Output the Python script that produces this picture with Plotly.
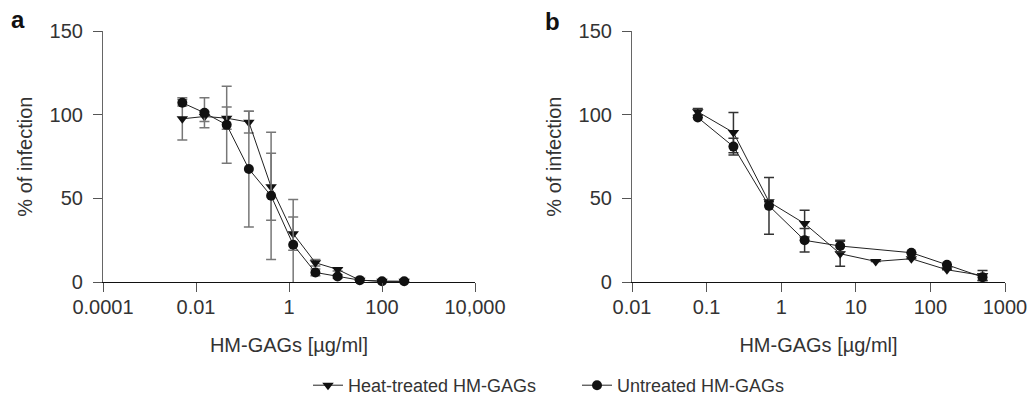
import plotly.graph_objects as go

# ---- data: panel a ----
a_conc = [0.00508, 0.0152, 0.0457, 0.137, 0.412, 1.23, 3.70, 11.1, 33.3, 100, 300]
a_heat = [97.6, 99, 98, 95.6, 57, 29, 11.6, 7.6, 1.2, 0.5, 0.5]
a_heat_err = [12.6, 3, 6.6, 6.5, 20, 10, 2, 1, 0, 0, 0]
a_untr = [107.2, 101.2, 94, 67.6, 51.6, 22.4, 5.8, 3.4, 1.2, 0.6, 0.5]
a_untr_err = [2, 9, 23, 34.6, 38, 27, 2, 1, 0, 0, 0]

# ---- data: panel b ----
b_conc_heat = [0.0762, 0.229, 0.686, 2.06, 6.17, 18.5, 55.6, 166.7, 500]
b_heat = [101.8, 89.4, 48, 35, 17, 12.4, 14, 7.4, 4]
b_heat_err = [2, 12, 0, 8, 7.5, 0, 0, 0, 3]
b_conc_untr = [0.0762, 0.229, 0.686, 2.06, 6.17, 55.6, 166.7, 500]
b_untr = [98.4, 81, 45.6, 25, 21.6, 17.6, 10.4, 3]
b_untr_err = [0, 5, 17, 7, 3.5, 0, 0, 2]

a_ticks = [0.0001, 0.01, 1, 100, 10000]
a_ticktext = ["0.0001", "0.01", "1", "100", "10,000"]
b_ticks = [0.01, 0.1, 1, 10, 100, 1000]
b_ticktext = ["0.01", "0.1", "1", "10", "100", "1000"]
y_ticks = [0, 50, 100, 150]

series_names = ["Heat-treated HM-GAGs", "Untreated HM-GAGs"]

FONT = "Liberation Sans, Arial, sans-serif"
TXT = "#333333"

fig = go.Figure()

def add_series(x, y, err, name, symbol, xa, ya, show, ecolor):
    fig.add_trace(go.Scatter(
        x=x, y=y, mode="lines+markers", name=name, showlegend=show,
        legendgroup=name,
        line=dict(color="#222222", width=1),
        marker=dict(symbol=symbol, size=10, color="#111111"),
        error_y=dict(type="data", array=err, visible=True, color=ecolor,
                     thickness=1.5, width=5),
        xaxis=xa, yaxis=ya, cliponaxis=False,
    ))

add_series(a_conc, a_heat, a_heat_err, series_names[0], "triangle-down", "x", "y", True, "#777777")
add_series(a_conc, a_untr, a_untr_err, series_names[1], "circle", "x", "y", True, "#777777")
add_series(b_conc_heat, b_heat, b_heat_err, series_names[0], "triangle-down", "x2", "y2", False, "#333333")
add_series(b_conc_untr, b_untr, b_untr_err, series_names[1], "circle", "x2", "y2", False, "#333333")

# small vertical correction observed in the capture
K = 0.986
W, H = 1035, 404
def px_x(p):
    return p / W
def px_y(p):
    return (H - p / K) / H

TICKF = dict(family=FONT, size=20, color=TXT)
TITLEF = dict(family=FONT, size=20, color=TXT)

def xaxis_cfg(domain, rng, tv, tt, anchor):
    return dict(type="log", domain=domain, range=rng, tickvals=tv, ticktext=tt,
                anchor=anchor, showline=True, linecolor="#111111", linewidth=1.2,
                showgrid=False, zeroline=False, ticks="outside", ticklen=9,
                tickcolor="#555555", tickfont=TICKF, automargin=False,
                ticklabelstandoff=-2,
                title=dict(text="HM-GAGs [µg/ml]", font=TITLEF, standoff=20))

def yaxis_cfg(anchor):
    return dict(domain=[px_y(281), px_y(31)], range=[0, 150], tickvals=y_ticks,
                anchor=anchor, showline=True, linecolor="#666666", linewidth=1.2,
                showgrid=False, zeroline=False, ticks="outside", ticklen=9,
                tickcolor="#555555", tickfont=TICKF, automargin=False,
                ticklabelstandoff=6,
                title=dict(text="% of infection", font=TITLEF, standoff=11))

fig.update_layout(
    width=W, height=H,
    margin=dict(l=0, r=0, t=0, b=0),
    paper_bgcolor="white", plot_bgcolor="white",
    font=dict(family=FONT, color=TXT),
    xaxis=xaxis_cfg([px_x(103), px_x(475)], [-4, 4], a_ticks, a_ticktext, "y"),
    yaxis=yaxis_cfg("x"),
    xaxis2=xaxis_cfg([px_x(632), px_x(1005)], [-2, 3], b_ticks, b_ticktext, "y2"),
    yaxis2=yaxis_cfg("x2"),
    legend=dict(orientation="h", x=px_x(308), xanchor="left", y=px_y(384), yanchor="middle",
                font=dict(family=FONT, size=18, color=TXT), itemwidth=30,
                entrywidth=224, bgcolor="rgba(0,0,0,0)"),
    annotations=[
        dict(text="<b>a</b>", x=px_x(18), y=px_y(19), xref="paper", yref="paper",
             xanchor="center", yanchor="middle",
             showarrow=False, font=dict(family=FONT, size=24, color="#111111")),
        dict(text="<b>b</b>", x=px_x(552), y=px_y(21), xref="paper", yref="paper",
             xanchor="center", yanchor="middle",
             showarrow=False, font=dict(family=FONT, size=24, color="#111111")),
    ],
)

# remove the default page margin so the figure starts at the window's corner
POST = ("document.documentElement.style.margin='0';"
        "document.documentElement.style.overflow='hidden';"
        "document.body.style.margin='0';"
        "document.body.style.overflow='hidden';"
        "var gd=document.getElementById('{plot_id}');"
        "if(gd&&gd.parentElement){gd.parentElement.style.lineHeight='0';gd.style.display='block';}")

fig.write_html("out.html", post_script=POST, config={"displayModeBar": False})
